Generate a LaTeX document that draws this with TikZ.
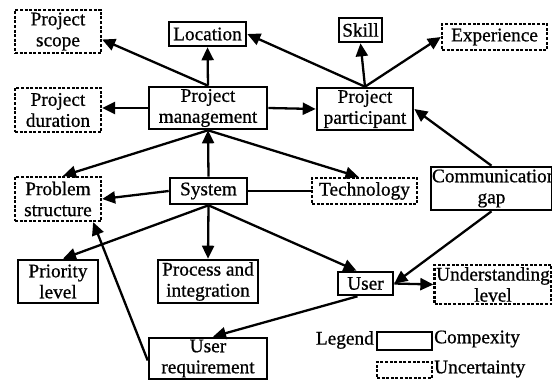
\documentclass[tikz,border=0pt]{standalone}
\usepackage{fontspec}
\setmainfont[FakeBold=0.8]{Liberation Serif}
\usetikzlibrary{arrows.meta}
\begin{document}
\begin{tikzpicture}[x=1pt,y=-1pt,
  font=\fontsize{19.3}{21}\selectfont,
  box/.style={draw,line width=2.6pt,rectangle,inner sep=0pt,align=center},
  solidbox/.style={box},
  dashbox/.style={box,line width=2.3pt,dash pattern=on 3pt off 1.6pt},
  arr/.style={line width=2.3pt,-{Triangle[length=13pt,width=12pt]}},
  plain/.style={line width=2.3pt}]
\useasboundingbox (0,0) rectangle (552,383);
% boxes: complexity (solid) and uncertainty (dashed)
\node[dashbox,minimum width=86pt,minimum height=43pt] (scope) at (58,31.5) {Project\\scope};
\node[solidbox,minimum width=77pt,minimum height=24pt] (loc) at (207.5,34) {Location};
\node[dashbox,minimum width=86pt,minimum height=44pt] (dur) at (58,110) {Project\\duration};
\node[solidbox,minimum width=118pt,minimum height=42pt] (pm) at (208,108) {Project\\management};
\node[solidbox,minimum width=43pt,minimum height=24pt] (skill) at (360.5,30) {Skill};
\node[dashbox,minimum width=105pt,minimum height=26pt] (exp) at (494.5,37) {Experience};
\node[solidbox,minimum width=96pt,minimum height=42pt] (pp) at (365,109) {Project\\participant};
\node[dashbox,minimum width=86pt,minimum height=44pt] (ps) at (58,199) {Problem\\structure};
\node[solidbox,minimum width=77pt,minimum height=26pt] (sys) at (208.5,191) {System};
\node[dashbox,minimum width=105pt,minimum height=26pt] (tech) at (364.5,191) {Technology};
\node[solidbox,minimum width=121pt,minimum height=43pt,text width=119pt] (comm) at (491.5,188.5) {Communication\\gap};
\node[solidbox,minimum width=80pt,minimum height=43pt] (pl) at (58,281.5) {Priority\\level};
\node[solidbox,minimum width=100pt,minimum height=43pt] (proc) at (208,281.5) {Process and\\integration};
\node[solidbox,minimum width=55pt,minimum height=23pt] (user) at (365.5,283.5) {User};
\node[dashbox,minimum width=117pt,minimum height=39pt,text width=115pt] (ul) at (493,284.5) {Understanding\\level};
\node[solidbox,minimum width=118pt,minimum height=41pt] (ur) at (208,358.5) {User\\requirement};
% legend
\node[anchor=east,inner sep=0pt] (legtxt) at (374,340) {Legend};
\node[solidbox,minimum width=55pt,minimum height=18pt] (legc) at (404.5,341) {};
\node[anchor=west,inner sep=0pt] (legctxt) at (434,339) {Compexity};
\node[dashbox,minimum width=55pt,minimum height=16pt] (legu) at (404.5,370) {};
\node[anchor=west,inner sep=0pt] (legutxt) at (434,369) {Uncertainty};
% connectors
\draw[arr] (pm.north) -- (loc.south);
\draw[arr] (pm.north) -- ([yshift=-8pt]scope.east);
\draw[arr] (pm.west) -- (pm.west -| dur.east);
\draw[arr] (pm.east) -- (pp.west);
\draw[arr] (pp.north) -- (loc.east);
\draw[arr] (pp.north) -- (skill.south);
\draw[arr] (pp.north) -- (exp.west);
\draw[arr] (comm.north) -- (pp.east);
\draw[arr] (sys.north) -- (pm.south);
\draw[arr] (pm.south) -- ([xshift=5pt]ps.north);
\draw[arr] (pm.south) -- ([xshift=-6pt]tech.north);
\draw[arr] (sys.west) -- (ps.east);
\draw[plain] (sys.east) -- (tech.west);
\draw[arr] (sys.south) -- (proc.north);
\draw[arr] (sys.south) -- ([xshift=5pt]pl.north);
\draw[arr] (sys.south) -- ([xshift=-9pt]user.north);
\draw[arr] (comm.south) -- (user.east);
\draw[arr] (user.east) -- (ul.west);
\draw[arr] ([xshift=-8pt]user.south) -- ([xshift=5pt]ur.north);
\draw[arr] ([yshift=-2pt]ur.west) -- ([xshift=-9pt]ps.south east);
\end{tikzpicture}
\end{document}
